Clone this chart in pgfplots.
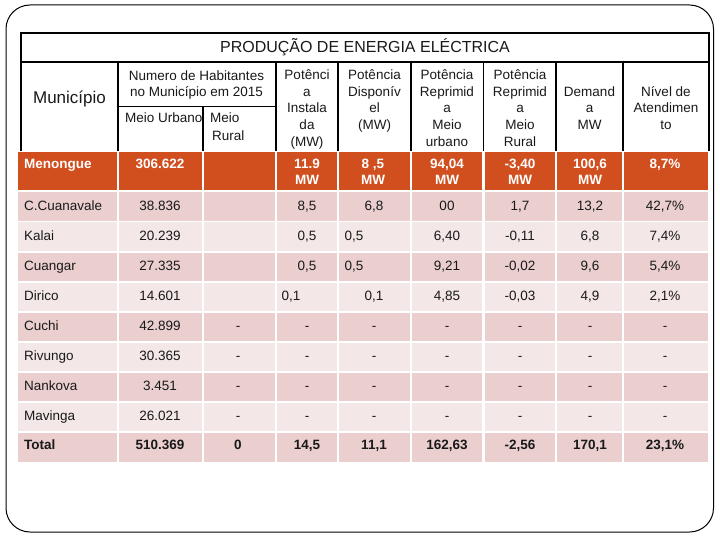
\documentclass[border=0pt]{standalone}
\usepackage{fontspec}
\setmainfont{Liberation Sans}
\usepackage{pgfplots}
\pgfplotsset{compat=1.18}
\definecolor{orow}{RGB}{209,79,31}
\definecolor{drow}{RGB}{234,207,206}
\definecolor{lrow}{RGB}{244,231,231}
\definecolor{txt}{RGB}{25,25,25}
\newcommand\bodyfont{\fontsize{13.5}{16}\selectfont}
\pgfplotsset{
  cellbase/.style={draw=none, mark=none, forget plot, nodes near coords, point meta=explicit symbolic,
    every node near coord/.append style={inner sep=0pt, text=#1}},
  cellc/.style={cellbase=#1, every node near coord/.append style={anchor=base, font=\bodyfont}},
  celll/.style={cellbase=#1, every node near coord/.append style={anchor=base west, font=\bodyfont}},
  cellcb/.style={cellbase=#1, every node near coord/.append style={anchor=base, font=\bodyfont\bfseries}},
  celllb/.style={cellbase=#1, every node near coord/.append style={anchor=base west, font=\bodyfont\bfseries}},
}
\begin{document}
\begin{tikzpicture}
\begin{axis}[x=1pt, y=1pt, xmin=0, xmax=720, ymin=0, ymax=540, y dir=reverse,
  hide axis, clip=false]
% background and frame
\fill[white] (axis cs:0,0) rectangle (axis cs:720,540);
\draw[line width=1pt, rounded corners=24pt] (axis cs:6,5) rectangle (axis cs:713.5,532);
% row backgrounds
\fill[orow] (axis cs:18,152) rectangle (axis cs:708,190.5);
\fill[drow] (axis cs:18,192) rectangle (axis cs:708,221);
\fill[lrow] (axis cs:18,222.5) rectangle (axis cs:708,251);
\fill[drow] (axis cs:18,252.5) rectangle (axis cs:708,281);
\fill[lrow] (axis cs:18,282.5) rectangle (axis cs:708,311);
\fill[drow] (axis cs:18,312.5) rectangle (axis cs:708,341);
\fill[lrow] (axis cs:18,342.5) rectangle (axis cs:708,371);
\fill[drow] (axis cs:18,372.5) rectangle (axis cs:708,401);
\fill[lrow] (axis cs:18,402.5) rectangle (axis cs:708,431);
\fill[drow] (axis cs:18,433) rectangle (axis cs:708,462);
% white column separators
\pgfplotsinvokeforeach{118,203,276,338,411,483.5,556,623}{
  \draw[white, line width=2.4pt] (axis cs:#1,151) -- (axis cs:#1,463);
}
% header black lines
\draw[line width=1.6pt] (axis cs:21,151) -- (axis cs:21,33) -- (axis cs:709,33) -- (axis cs:709,151);
\draw[line width=1.6pt] (axis cs:21,62) -- (axis cs:709,62);
\pgfplotsinvokeforeach{118,276,338,411,483.5,556,623}{
  \draw[line width=1.6pt] (axis cs:#1,62) -- (axis cs:#1,151);
}
\draw[line width=1.6pt] (axis cs:118,106.7) -- (axis cs:276,106.7);
\draw[line width=1.6pt] (axis cs:203,106.7) -- (axis cs:203,151);
% header texts
\node[anchor=base, font=\fontsize{16}{19}\selectfont, text=txt] at (axis cs:365,53) {PRODUÇÃO DE ENERGIA ELÉCTRICA};
\node[anchor=base, font=\fontsize{17}{20}\selectfont, text=txt] at (axis cs:69.5,103.5) {Município};
\begin{scope}[every node/.style={font=\bodyfont, text=txt, inner sep=0pt}]
\node[anchor=base] at (axis cs:196.5,80.5) {Numero de Habitantes};
\node[anchor=base] at (axis cs:196.5,96.5) {no Município em 2015};
\node[anchor=base west] at (axis cs:125,123) {Meio Urbano};
\node[anchor=base west] at (axis cs:210,123) {Meio};
\node[anchor=base west] at (axis cs:212,140.5) {Rural};
% Potencia instalada
\node[anchor=base] at (axis cs:307,80) {Potênci};
\node[anchor=base] at (axis cs:307,96.5) {a};
\node[anchor=base] at (axis cs:307,113) {Instala};
\node[anchor=base] at (axis cs:307,129.7) {da};
\node[anchor=base] at (axis cs:307,146.3) {(MW)};
% Potencia disponivel
\node[anchor=base] at (axis cs:374.5,80) {Potência};
\node[anchor=base] at (axis cs:374.5,96.5) {Disponív};
\node[anchor=base] at (axis cs:374.5,113) {el};
\node[anchor=base] at (axis cs:374.5,129.7) {(MW)};
% Reprimida urbano
\node[anchor=base] at (axis cs:447,80) {Potência};
\node[anchor=base] at (axis cs:447,96.5) {Reprimid};
\node[anchor=base] at (axis cs:447,113) {a};
\node[anchor=base] at (axis cs:447,129.7) {Meio};
\node[anchor=base] at (axis cs:447,146.3) {urbano};
% Reprimida rural
\node[anchor=base] at (axis cs:520,80) {Potência};
\node[anchor=base] at (axis cs:520,96.5) {Reprimid};
\node[anchor=base] at (axis cs:520,113) {a};
\node[anchor=base] at (axis cs:520,129.7) {Meio};
\node[anchor=base] at (axis cs:520,146.3) {Rural};
% Demanda
\node[anchor=base] at (axis cs:589.5,96.5) {Demand};
\node[anchor=base] at (axis cs:589.5,113) {a};
\node[anchor=base] at (axis cs:589.5,129.7) {MW};
% Nivel
\node[anchor=base] at (axis cs:666,96.5) {Nível de};
\node[anchor=base] at (axis cs:666,113) {Atendimen};
\node[anchor=base] at (axis cs:666,129.7) {to};
\end{scope}
% ---- data cells ----
% Menongue row (white bold)
\addplot[celllb=white] coordinates {(24,168.5) [Menongue]};
\addplot[cellcb=white] coordinates {
(160,168.5) [306.622]
(307,168.5) [11.9] (307,185) [MW]
(373,168.5) [8 ,5] (373,185) [MW]
(447,168.5) [94,04] (447,185) [MW]
(520,168.5) [-3,40] (520,185) [MW]
(590,168.5) [100,6] (590,185) [MW]
(665,168.5) [8,7\%]
};
% municipality names
\addplot[celll=txt] coordinates {
(24,210.5) [C.Cuanavale]
(24,240.5) [Kalai]
(24,270.5) [Cuangar]
(24,300.5) [Dirico]
(24,330.5) [Cuchi]
(24,360.5) [Rivungo]
(24,390.5) [Nankova]
(24,420.5) [Mavinga]
};
% regular values
\addplot[cellc=txt] coordinates {
(160,210.5) [38.836] (307,210.5) [8,5] (374,210.5) [6,8] (447,210.5) [00] (520,210.5) [1,7] (590,210.5) [13,2] (665,210.5) [42,7\%]
(160,240.5) [20.239] (307,240.5) [0,5] (354,240.5) [0,5] (447,240.5) [6,40] (520,240.5) [-0,11] (590,240.5) [6,8] (665,240.5) [7,4\%]
(160,270.5) [27.335] (307,270.5) [0,5] (354,270.5) [0,5] (447,270.5) [9,21] (520,270.5) [-0,02] (590,270.5) [9,6] (665,270.5) [5,4\%]
(160,300.5) [14.601] (291,300.5) [0,1] (374,300.5) [0,1] (447,300.5) [4,85] (520,300.5) [-0,03] (590,300.5) [4,9] (665,300.5) [2,1\%]
(160,330.5) [42.899] (238,330.5) [-] (307,330.5) [-] (374,330.5) [-] (447,330.5) [-] (520,330.5) [-] (590,330.5) [-] (665,330.5) [-]
(160,360.5) [30.365] (238,360.5) [-] (307,360.5) [-] (374,360.5) [-] (447,360.5) [-] (520,360.5) [-] (590,360.5) [-] (665,360.5) [-]
(160,390.5) [3.451] (238,390.5) [-] (307,390.5) [-] (374,390.5) [-] (447,390.5) [-] (520,390.5) [-] (590,390.5) [-] (665,390.5) [-]
(160,420.5) [26.021] (238,420.5) [-] (307,420.5) [-] (374,420.5) [-] (447,420.5) [-] (520,420.5) [-] (590,420.5) [-] (665,420.5) [-]
};
% Total row (bold)
\addplot[celllb=txt] coordinates {(24,449.5) [Total]};
\addplot[cellcb=txt] coordinates {
(160,449.5) [510.369] (238,449.5) [0] (307,449.5) [14,5] (374,449.5) [11,1]
(447,449.5) [162,63] (520,449.5) [-2,56] (590,449.5) [170,1] (665,449.5) [23,1\%]
};
\end{axis}
\end{tikzpicture}
\end{document}
